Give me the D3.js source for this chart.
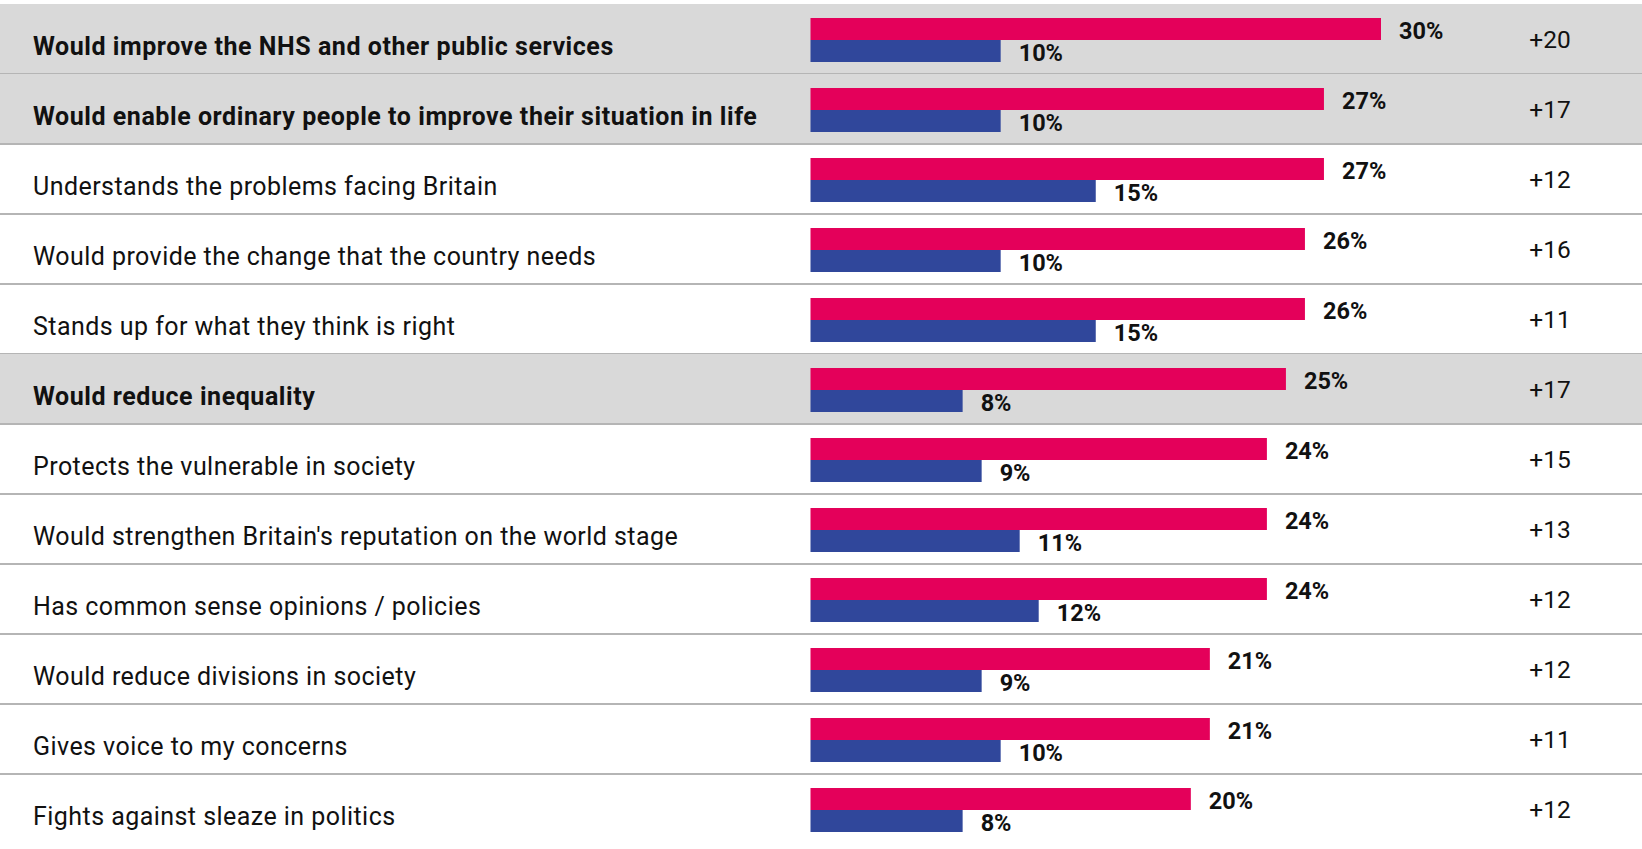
<!DOCTYPE html>
<html>
<head>
<meta charset="utf-8">
<script src="https://cdn.jsdelivr.net/npm/d3@7"></script>
<style>
  html, body { margin: 0; padding: 0; background: #fff; }
  svg { display: block; }
</style>
</head>
<body>
<div id="chart"></div>
<script>
// statements, the two series and the gap column
var statements = [
  "Would improve the NHS and other public services",
  "Would enable ordinary people to improve their situation in life",
  "Understands the problems facing Britain",
  "Would provide the change that the country needs",
  "Stands up for what they think is right",
  "Would reduce inequality",
  "Protects the vulnerable in society",
  "Would strengthen Britain's reputation on the world stage",
  "Has common sense opinions / policies",
  "Would reduce divisions in society",
  "Gives voice to my concerns",
  "Fights against sleaze in politics"
];
var highlighted = [true, true, false, false, false, true, false, false, false, false, false, false];
var redValues = [30, 27, 27, 26, 26, 25, 24, 24, 24, 21, 21, 20];
var blueValues = [10, 10, 15, 10, 15, 8, 9, 11, 12, 9, 10, 8];
var gapLabels = ["+20", "+17", "+12", "+16", "+11", "+17", "+15", "+13", "+12", "+12", "+11", "+12"];
var seriesKeys = ["red", "blue"];

var w = 1642;
var h = 849;
var colors = { red: "#e4005a", blue: "#30479b" };

var rows = statements.map(function(s, i) {
  return { label: s, bold: highlighted[i], red: redValues[i], blue: blueValues[i], gap: gapLabels[i] };
});

const svg = d3.select("#chart")
  .append("svg")
  .attr("width", w)
  .attr("height", h);

//row bands
const yScale = d3.scaleBand()
  .domain(d3.range(rows.length))
  .range([4, 844])
  .padding(0);

//two bars within each row
const subScale = d3.scaleBand()
  .domain(seriesKeys)
  .range([14, 58])
  .padding(0);

const xScale = d3.scaleLinear()
  .domain([0, 30])
  .range([810.5, 1381]);

const row = svg.selectAll("g.row")
  .data(rows)
  .enter()
  .append("g")
  .attr("class", "row")
  .attr("transform", (d, i) => "translate(0," + yScale(i) + ")");

//grey background for highlighted rows
row.filter(d => d.bold)
  .append("rect")
  .attr("x", 0)
  .attr("y", 0)
  .attr("width", w)
  .attr("height", yScale.bandwidth())
  .attr("fill", "#d9d9d9");

//separator lines
row.filter((d, i) => i < rows.length - 1)
  .append("line")
  .attr("x1", 0)
  .attr("x2", w)
  .attr("y1", yScale.bandwidth())
  .attr("y2", yScale.bandwidth())
  .attr("stroke", "#b5b5b5")
  .attr("stroke-width", 2);

//statement text
row.append("text")
  .attr("x", 33)
  .attr("y", yScale.bandwidth() / 2 + 16)
  .attr("font-family", "Roboto, 'Noto Sans', sans-serif")
  .attr("font-size", 25)
  .attr("font-weight", d => d.bold ? 700 : 400)
  .attr("letter-spacing", d => d.bold ? 0.55 : 0.45)
  .attr("fill", "#111")
  .text(d => d.label);

//bars
seriesKeys.forEach(function(key) {
  row.append("rect")
    .attr("x", xScale(0))
    .attr("y", subScale(key))
    .attr("width", d => xScale(d[key]) - xScale(0))
    .attr("height", subScale.bandwidth())
    .attr("fill", colors[key]);

  row.append("text")
    .attr("x", d => xScale(d[key]) + 18)
    .attr("y", subScale(key) + subScale.bandwidth() - 1)
    .attr("font-family", "Roboto, sans-serif")
    .attr("font-size", 23.5)
    .attr("font-weight", 700)
    .attr("fill", "#111")
    .text(d => d[key] + "%");
});

//gap column
row.append("text")
  .attr("x", 1550)
  .attr("y", yScale.bandwidth() / 2 + 8.5)
  .attr("text-anchor", "middle")
  .attr("font-family", "Roboto, sans-serif")
  .attr("font-size", 24.5)
  .attr("font-weight", 400)
  .attr("fill", "#111")
  .text(d => d.gap);
</script>
</body>
</html>
